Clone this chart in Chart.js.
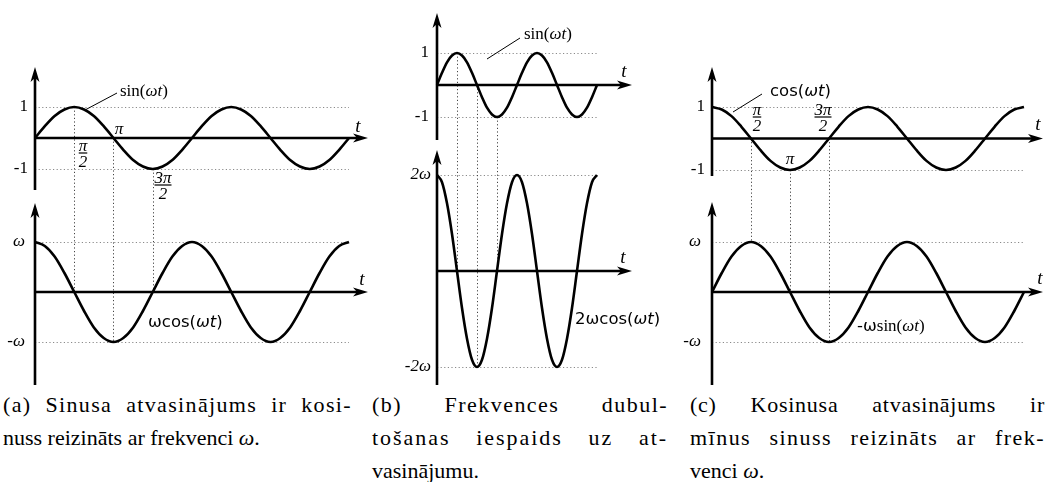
<!DOCTYPE html>
<html lang="lv">
<head>
<meta charset="UTF-8">
<title>Sinusa un kosinusa atvasinājumi</title>
<script src="https://cdn.jsdelivr.net/npm/chart.js"></script>
<style>
  body { margin: 0; background: #fff; width: 1049px; height: 482px; position: relative; overflow: hidden; }
  canvas { position: absolute; top: 0; }
  .cap { position: absolute; top: 388px; font-family: "Liberation Serif", serif; font-size: 22px; color: #000; }
  .cap div { height: 33px; line-height: 33px; white-space: nowrap; }
  .cap .j { text-align: justify; text-align-last: justify; }
</style>
</head>
<body>
<canvas id="chartA" width="372" height="385" style="left:0px"></canvas>
<canvas id="chartB" width="310" height="385" style="left:372px"></canvas>
<canvas id="chartC" width="367" height="385" style="left:682px"></canvas>

<div class="cap" style="left:3px;width:349px">
  <div class="j" data-share="0.6">(a) Sinusa atvasinājums ir kosi-</div>
  <div>nuss reizināts ar frekvenci <i>ω</i>.</div>
</div>
<div class="cap" style="left:372px;width:296px">
  <div class="j" data-share="0.3">(b) Frekvences dubul-</div>
  <div class="j" data-share="0.45">tošanas iespaids uz at-</div>
  <div>vasinājumu.</div>
</div>
<div class="cap" style="left:690px;width:355px">
  <div class="j" data-share="0.2">(c) Kosinusa atvasinājums ir</div>
  <div class="j" data-share="0.5">mīnus sinuss reizināts ar frek-</div>
  <div>venci <i>ω</i>.</div>
</div>

<script>
  // time axis in units of π, one sample every π/8 (two full periods)
  const t = [0, 0.125, 0.25, 0.375, 0.5, 0.625, 0.75, 0.875, 1, 1.125, 1.25, 1.375, 1.5, 1.625, 1.75, 1.875,
             2, 2.125, 2.25, 2.375, 2.5, 2.625, 2.75, 2.875, 3, 3.125, 3.25, 3.375, 3.5, 3.625, 3.75, 3.875, 4];
  const sinValues = [0, 0.38, 0.71, 0.92, 1, 0.92, 0.71, 0.38, 0, -0.38, -0.71, -0.92, -1, -0.92, -0.71, -0.38,
                     0, 0.38, 0.71, 0.92, 1, 0.92, 0.71, 0.38, 0, -0.38, -0.71, -0.92, -1, -0.92, -0.71, -0.38, 0];
  const cosValues = [1, 0.92, 0.71, 0.38, 0, -0.38, -0.71, -0.92, -1, -0.92, -0.71, -0.38, 0, 0.38, 0.71, 0.92,
                     1, 0.92, 0.71, 0.38, 0, -0.38, -0.71, -0.92, -1, -0.92, -0.71, -0.38, 0, 0.38, 0.71, 0.92, 1];
  const twoCosValues = [2, 1.85, 1.41, 0.77, 0, -0.77, -1.41, -1.85, -2, -1.85, -1.41, -0.77, 0, 0.77, 1.41, 1.85,
                        2, 1.85, 1.41, 0.77, 0, -0.77, -1.41, -1.85, -2, -1.85, -1.41, -0.77, 0, 0.77, 1.41, 1.85, 2];
  const negSinValues = [0, 0.38, 0.71, 0.92, 1, 0.92, 0.71, 0.38, 0, -0.38, -0.71, -0.92, -1, -0.92, -0.71, -0.38,
                        0, 0.38, 0.71, 0.92, 1, 0.92, 0.71, 0.38, 0, -0.38, -0.71, -0.92, -1, -0.92, -0.71, -0.38, 0];
  // dotted drop lines at π/2, π, 3π/2
  const dropTimes = [0.5, 1, 1.5];
  const unitTicks = [1, -1];
  const doubleTicks = [2, -2];
  const unitLabels = ['1', '-1'];
  const omegaLabels = ['ω', '-ω'];
  const doubleOmegaLabels = ['2ω', '-2ω'];

  const SERIF = '17px "Liberation Serif"';
  const SERIF_I = 'italic 17px "Liberation Serif"';
  const SANS = '16.5px "DejaVu Sans"';
  const SANS_I = 'oblique 16.5px "DejaVu Sans"';

  // spread the justified caption lines partly over letters, partly over word gaps
  document.querySelectorAll('.cap .j').forEach((el) => {
    const full = el.clientWidth;
    el.style.display = 'inline-block';
    const natural = el.getBoundingClientRect().width;
    el.style.display = '';
    const share = parseFloat(el.dataset.share);
    el.style.letterSpacing = Math.max(0, share * (full - natural) / el.textContent.length) + 'px';
  });

  // min/max so that value v0 sits on pixel p0 and v1 on p1 of an axis `size` px long
  function fitRange(v0, p0, v1, p1, size) {
    const k = (v1 - v0) / (p1 - p0);
    const a = v0 - p0 * k;
    const b = v0 + (size - p0) * k;
    return { min: Math.min(a, b), max: Math.max(a, b) };
  }

  function arrowUp(ctx, x, y) {
    ctx.beginPath();
    ctx.moveTo(x, y);
    ctx.lineTo(x + 4.5, y + 15);
    ctx.lineTo(x, y + 11);
    ctx.lineTo(x - 4.5, y + 15);
    ctx.closePath();
    ctx.fill();
  }

  function arrowRight(ctx, x, y) {
    ctx.beginPath();
    ctx.moveTo(x, y);
    ctx.lineTo(x - 15, y - 4.5);
    ctx.lineTo(x - 11, y);
    ctx.lineTo(x - 15, y + 4.5);
    ctx.closePath();
    ctx.fill();
  }

  function rich(ctx, parts, x, y) {
    ctx.textAlign = 'left';
    ctx.textBaseline = 'middle';
    for (const [s, f] of parts) {
      ctx.font = f;
      ctx.fillText(s, x, y);
      x += ctx.measureText(s).width;
    }
  }

  // fraction like π/2 drawn as an underlined numerator over "2"
  function frac(ctx, num, cx, barY) {
    ctx.font = SERIF_I;
    ctx.textAlign = 'center';
    ctx.textBaseline = 'alphabetic';
    ctx.fillText(num, cx, barY - 2);
    const w = ctx.measureText(num).width;
    ctx.fillRect(cx - w / 2, barY - 0.6, w, 1.2);
    ctx.textBaseline = 'top';
    ctx.fillText('2', cx, barY + 1);
  }

  function leader(ctx, x1, y1, x2, y2) {
    ctx.beginPath();
    ctx.lineWidth = 1;
    ctx.moveTo(x1, y1);
    ctx.lineTo(x2, y2);
    ctx.stroke();
  }

  const panels = [
    {
      canvas: 'chartA', left: 0, width: 372, height: 385,
      xPx: [35, 349], xTip: 368,
      top: { values: sinValues, ticks: unitTicks, labels: unitLabels, px: [107, 169], axis: [67, 190], tickRight: 28, tPos: [358, 127] },
      bottom: { values: cosValues, ticks: unitTicks, labels: omegaLabels, px: [242, 342], axis: [203, 385], tickRight: 25, tPos: [362, 280] },
      notes(ctx) {
        leader(ctx, 85, 110, 117, 93);
        rich(ctx, [['sin(', SERIF], ['ω', SERIF_I], ['t', SERIF_I], [')', SERIF]], 120, 92);
        rich(ctx, [['ω', SANS], ['cos(', SANS], ['ω', SANS_I], ['t', SANS_I], [')', SANS]], 148, 323);
        ctx.font = SERIF_I; ctx.textAlign = 'center'; ctx.textBaseline = 'middle';
        ctx.fillText('π', 119, 130);
        frac(ctx, 'π', 83, 153);
        frac(ctx, '3π', 163, 185);
      }
    },
    {
      canvas: 'chartB', left: 372, width: 310, height: 385,
      xPx: [437, 597], xTip: 632,
      top: { values: sinValues, ticks: unitTicks, labels: unitLabels, px: [53, 117], axis: [13, 140], tickRight: 429, tPos: [624, 72] },
      bottom: { values: twoCosValues, ticks: doubleTicks, labels: doubleOmegaLabels, px: [175, 367], axis: [150, 385], tickRight: 431, tPos: [623, 258] },
      notes(ctx) {
        leader(ctx, 487, 59, 520, 38);
        rich(ctx, [['sin(', SERIF], ['ω', SERIF_I], ['t', SERIF_I], [')', SERIF]], 524, 35);
        rich(ctx, [['2', SANS], ['ω', SANS], ['cos(', SANS], ['ω', SANS_I], ['t', SANS_I], [')', SANS]], 575, 320);
      }
    },
    {
      canvas: 'chartC', left: 682, width: 367, height: 385,
      xPx: [712, 1024], xTip: 1043,
      top: { values: cosValues, ticks: unitTicks, labels: unitLabels, px: [107, 170], axis: [67, 176], tickRight: 705, tPos: [1038, 125] },
      bottom: { values: negSinValues, ticks: unitTicks, labels: omegaLabels, px: [242, 342], axis: [202, 385], tickRight: 701, tPos: [1040, 279] },
      notes(ctx) {
        leader(ctx, 733, 112, 762, 94);
        rich(ctx, [['cos(', SANS], ['ω', SANS_I], ['t', SANS_I], [')', SANS]], 770, 92);
        rich(ctx, [['-ω', SANS], ['sin(', SERIF], ['ω', SERIF_I], ['t', SERIF_I], [')', SERIF]], 857, 327);
        ctx.font = SERIF_I; ctx.textAlign = 'center'; ctx.textBaseline = 'middle';
        ctx.fillText('π', 790, 160);
        frac(ctx, 'π', 757, 117);
        frac(ctx, '3π', 823, 117);
      }
    }
  ];

  panels.forEach((p) => {
    const decor = {
      id: 'decor',
      beforeDatasetsDraw(chart) {
        const ctx = chart.ctx;
        const X = chart.scales.x, YT = chart.scales.yT, YB = chart.scales.yB;
        const x0 = X.getPixelForValue(0), x4 = X.getPixelForValue(t[t.length - 1]);
        ctx.save();
        ctx.lineWidth = 1;
        ctx.setLineDash([1.2, 2.4]);
        // horizontal reference lines at the amplitudes
        ctx.strokeStyle = '#8a8a8a';
        [[YT, p.top], [YB, p.bottom]].forEach(([Y, half]) => {
          half.ticks.forEach((v) => {
            const y = Math.round(Y.getPixelForValue(v)) + 0.5;
            ctx.beginPath(); ctx.moveTo(x0, y); ctx.lineTo(x4, y); ctx.stroke();
          });
        });
        // drop lines from the top curve to the bottom curve
        ctx.strokeStyle = '#444';
        dropTimes.forEach((dt) => {
          const i = t.indexOf(dt);
          const x = Math.round(X.getPixelForValue(dt)) + 0.5;
          ctx.beginPath();
          ctx.moveTo(x, YT.getPixelForValue(p.top.values[i]));
          ctx.lineTo(x, YB.getPixelForValue(p.bottom.values[i]));
          ctx.stroke();
        });
        ctx.setLineDash([]);
        // axes with arrows
        ctx.strokeStyle = '#000'; ctx.fillStyle = '#000'; ctx.lineWidth = 2.6;
        const tip = p.xTip - p.left;
        [[YT, p.top], [YB, p.bottom]].forEach(([Y, half]) => {
          const y0 = Y.getPixelForValue(0);
          ctx.beginPath();
          ctx.moveTo(x0, half.axis[1]); ctx.lineTo(x0, half.axis[0] + 10);
          ctx.moveTo(x0, y0); ctx.lineTo(tip - 10, y0);
          ctx.stroke();
          arrowUp(ctx, x0, half.axis[0]);
          arrowRight(ctx, tip, y0);
        });
        ctx.restore();
      },
      afterDatasetsDraw(chart) {
        const ctx = chart.ctx;
        const YT = chart.scales.yT, YB = chart.scales.yB;
        ctx.save();
        ctx.fillStyle = '#000'; ctx.strokeStyle = '#000';
        ctx.translate(-p.left, 0);
        [[YT, p.top], [YB, p.bottom]].forEach(([Y, half]) => {
          ctx.textAlign = 'right'; ctx.textBaseline = 'middle';
          half.ticks.forEach((v, i) => {
            ctx.font = half.labels[i].includes('ω') ? SERIF_I : SERIF;
            ctx.fillText(half.labels[i], half.tickRight, Y.getPixelForValue(v));
          });
          ctx.font = 'italic 19px "Liberation Serif"'; ctx.textAlign = 'center';
          ctx.fillText('t', half.tPos[0], half.tPos[1]);
        });
        p.notes(ctx);
        ctx.restore();
      }
    };

    new Chart(document.getElementById(p.canvas), {
      type: 'line',
      data: {
        datasets: [
          { data: t.map((x, i) => ({ x, y: p.top.values[i] })), yAxisID: 'yT' },
          { data: t.map((x, i) => ({ x, y: p.bottom.values[i] })), yAxisID: 'yB' }
        ]
      },
      options: {
        responsive: false,
        animation: false,
        events: [],
        layout: { padding: 0 },
        elements: {
          point: { radius: 0 },
          line: { borderColor: '#000', borderWidth: 2.6, cubicInterpolationMode: 'monotone', fill: false }
        },
        plugins: { legend: { display: false }, tooltip: { enabled: false } },
        scales: {
          x: { type: 'linear', display: false, bounds: 'data', ...fitRange(0, p.xPx[0] - p.left, 4, p.xPx[1] - p.left, p.width) },
          yT: { type: 'linear', display: false, bounds: 'data', ...fitRange(p.top.ticks[0], p.top.px[0], p.top.ticks[1], p.top.px[1], p.height) },
          yB: { type: 'linear', display: false, bounds: 'data', ...fitRange(p.bottom.ticks[0], p.bottom.px[0], p.bottom.ticks[1], p.bottom.px[1], p.height) }
        }
      },
      plugins: [decor]
    });
  });
</script>
</body>
</html>
